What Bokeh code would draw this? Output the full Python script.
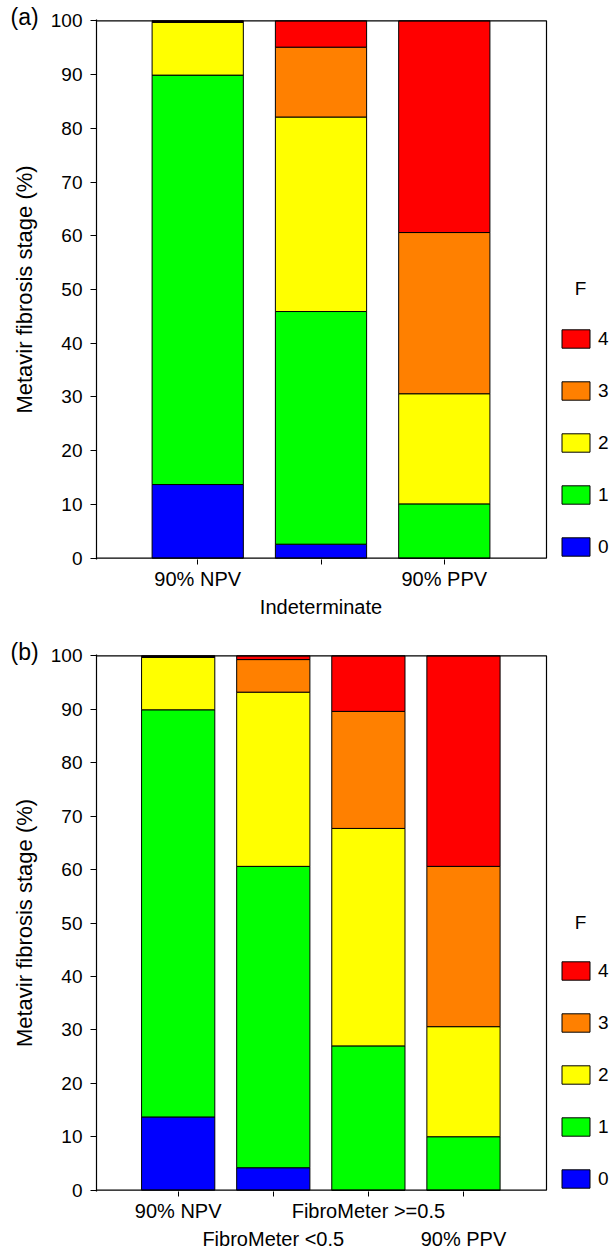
from bokeh.plotting import figure
from bokeh.models import FixedTicker, LinearAxis, Legend, LegendItem, Label, Range1d, Title
from bokeh.layouts import column
from bokeh.embed import file_html
from bokeh.resources import INLINE

FONT = "Liberation Sans"
FS = "19px"
CAT_FS = "20px"

stages = ["0", "1", "2", "3", "4"]
colors = ["#0000FF", "#00FF00", "#FFFF00", "#FF8000", "#FF0000"]
y_ticks = [0, 10, 20, 30, 40, 50, 60, 70, 80, 90, 100]

# Panel (a)
a_groups = ["90% NPV", "Indeterminate", "90% PPV"]
a_F0 = [13.7, 2.6, 0.0]
a_F1 = [76.2, 43.3, 10.1]
a_F2 = [9.8, 36.2, 20.5]
a_F3 = [0.2, 13.0, 30.0]
a_F4 = [0.1, 4.9, 39.4]

# Panel (b)
b_groups = ["90% NPV", "FibroMeter <0.5", "FibroMeter >=0.5", "90% PPV"]
b_F0 = [13.7, 4.2, 0.0, 0.0]
b_F1 = [76.2, 56.4, 27.0, 10.0]
b_F2 = [9.8, 32.6, 40.7, 20.6]
b_F3 = [0.2, 6.1, 21.9, 30.0]
b_F4 = [0.1, 0.7, 10.4, 39.4]

BOX_W = 450      # width of the boxed plotting area in px
RIGHT_PAD = 68   # area right of the box (legend)
PAD = 0.25       # small y padding so the box edges are not clipped


def make_panel(tag, groups, series, x_start, x_box_end, bar_width, height, border_bottom):
    xs = list(range(1, len(groups) + 1))
    data = {"x": xs}
    for s, vals in zip(stages, series):
        data["F" + s] = vals
    px_per_x = BOX_W / (x_box_end - x_start)
    x_end = x_box_end + RIGHT_PAD / px_per_x
    p = figure(width=614, height=height, output_backend="svg", toolbar_location=None,
               title=None,
               x_range=Range1d(x_start, x_end), y_range=Range1d(-PAD, 100 + PAD),
               min_border_left=96, min_border_right=0, min_border_top=19,
               min_border_bottom=border_bottom, x_axis_location=None)
    p.grid.visible = False
    p.outline_line_color = None
    p.background_fill_color = "white"

    rs = p.vbar_stack(["F" + s for s in stages], x="x", width=bar_width, source=data,
                      fill_color=colors, line_color="black", line_width=1)

    # frame box (top, right, bottom edges; left edge is the y axis)
    p.line(x=[x_start, x_box_end, x_box_end, x_start], y=[100, 100, 0, 0],
           line_color="black", line_width=1.2)

    # y axis
    ya = p.yaxis[0]
    ya.ticker = FixedTicker(ticks=y_ticks)
    ya.axis_label = "Metavir fibrosis stage (%)"
    ya.axis_label_text_font = FONT
    ya.axis_label_text_font_size = "22px"
    ya.axis_label_text_font_style = "normal"
    ya.axis_label_text_color = "black"
    ya.axis_label_standoff = 11
    ya.major_label_text_font = FONT
    ya.major_label_text_font_size = FS
    ya.major_label_text_color = "black"
    ya.major_label_standoff = 8
    ya.major_tick_out = 6
    ya.major_tick_in = 0
    ya.major_tick_line_color = "black"
    ya.minor_tick_line_color = None
    ya.axis_line_color = "black"
    ya.axis_line_width = 1.2

    # two rows of category labels
    row1 = {x: (g if i % 2 == 0 else "") for i, (x, g) in enumerate(zip(xs, groups))}
    row2 = {x: (g if i % 2 == 1 else "") for i, (x, g) in enumerate(zip(xs, groups))}
    ax1 = LinearAxis(ticker=FixedTicker(ticks=xs), major_label_overrides=row1,
                     major_tick_out=5, major_tick_in=0, minor_tick_line_color=None,
                     major_tick_line_color="black",
                     major_label_standoff=3, major_label_text_font=FONT,
                     major_label_text_font_size=CAT_FS, major_label_text_color="black",
                     axis_line_color=None)
    ax2 = LinearAxis(ticker=FixedTicker(ticks=xs), major_label_overrides=row2,
                     major_tick_out=0, major_tick_in=0, major_tick_line_color=None,
                     minor_tick_line_color=None, axis_line_color=None,
                     major_label_standoff=3, major_label_text_font=FONT,
                     major_label_text_font_size=CAT_FS, major_label_text_color="black")
    p.add_layout(ax1, "below")
    p.add_layout(ax2, "below")

    items = [LegendItem(label=s, renderers=[r]) for s, r in zip(stages, rs)][::-1]
    leg = Legend(items=items, location=(BOX_W + 12, 1), margin=0, padding=0, spacing=29,
                 glyph_width=35, glyph_height=23, label_standoff=5,
                 label_text_font=FONT, label_text_font_size=FS, label_text_color="black",
                 border_line_color=None, background_fill_alpha=0)
    p.add_layout(leg, "center")

    p.add_layout(Label(x=x_box_end + 34 / px_per_x, y=50.1, text="F", text_font=FONT,
                       text_font_size=FS, text_baseline="middle", text_align="center",
                       text_color="black"))
    p.add_layout(Title(text=tag, align="left", offset=-86, standoff=-20,
                       text_font=FONT, text_font_size="23px", text_font_style="normal",
                       text_color="black"), "above")
    return p


pa = make_panel("(a)", a_groups, [a_F0, a_F1, a_F2, a_F3, a_F4], 0.179, 3.829, 0.74, 635, 76)
pb = make_panel("(b)", b_groups, [b_F0, b_F1, b_F2, b_F3, b_F4], 0.141, 4.873, 0.77, 617, 58)

layout = column(pa, pb, spacing=0)
open("out.html", "w").write(file_html(layout, INLINE))
